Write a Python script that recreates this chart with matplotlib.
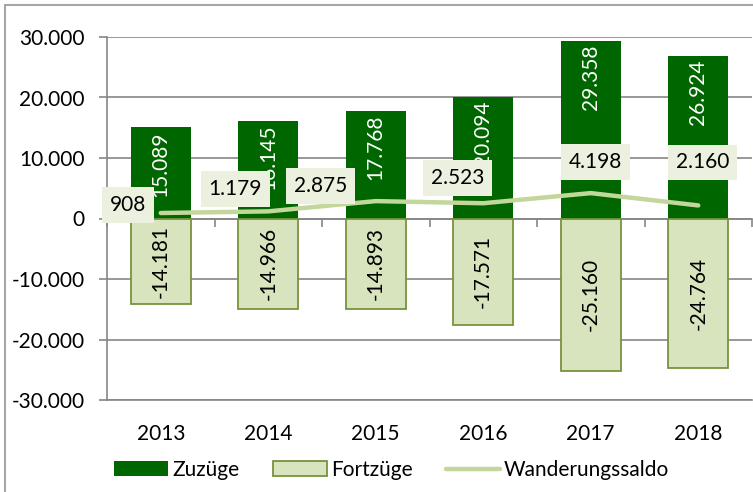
import matplotlib
matplotlib.use("Agg")
import matplotlib.pyplot as plt
from matplotlib.patches import Rectangle
from matplotlib.ticker import FuncFormatter
import numpy as np

plt.rcParams['font.family'] = ['Lato', 'DejaVu Sans']

years = ["2013", "2014", "2015", "2016", "2017", "2018"]
zuzuege = [15089, 16145, 17768, 20094, 29358, 26924]
fortzuege = [-14181, -14966, -14893, -17571, -25160, -24764]
saldo = [908, 1179, 2875, 2523, 4198, 2160]
yticks = [-30000, -20000, -10000, 0, 10000, 20000, 30000]

# label offsets (pixels) for the saldo labels
saldo_offsets = [(-33, 8), (-33, 22), (-55, 15), (-26, 25), (5, 31), (4, 43)]

def de(v):
    s = f"{abs(int(v)):,}".replace(",", ".")
    return ("-" if v < 0 else "") + s

W, H = 753, 492
fig = plt.figure(figsize=(W/100, H/100), dpi=100)
ax = fig.add_axes([107/W, 1-400/H, (752-107)/W, (400-37)/H])

x = np.arange(len(years))
bw = 0.56
dark = '#006600'
light = '#d7e4bd'
edge = '#77933c'
linec = '#c3d69b'
grid = '#868686'

b1 = ax.bar(x, zuzuege, bw, color=dark, label='Zuzüge', zorder=3)
b2 = ax.bar(x, fortzuege, bw, color=light, edgecolor=edge, linewidth=1.3,
            label='Fortzüge', zorder=3)
ln, = ax.plot(x, saldo, color=linec, lw=3.2, solid_capstyle='round',
              label='Wanderungssaldo', zorder=4)

fs = 15
for xi, v in zip(x, zuzuege):
    ax.annotate(de(v), (xi, v), xytext=(0, -4), textcoords='offset pixels',
                rotation=90, ha='center', va='top', color='white',
                fontsize=fs, zorder=5)
for xi, v in zip(x, fortzuege):
    ax.text(xi, v/2, de(v), rotation=90, ha='center', va='center',
            color='black', fontsize=fs, zorder=5)
for xi, v, (dx, dy) in zip(x, saldo, saldo_offsets):
    ax.annotate(de(v), (xi, v), xytext=(dx, dy), textcoords='offset pixels',
                ha='center', va='center', fontsize=fs, color='black', zorder=6,
                bbox=dict(boxstyle='square,pad=0.38', fc='#ebf1de', ec='none'))

ax.set_ylim(-30000, 30000)
ax.set_xlim(-0.5, len(years)-0.5)
ax.set_yticks(yticks)
ax.yaxis.set_major_formatter(FuncFormatter(lambda v, p: de(v)))
ax.grid(axis='y', color=grid, lw=1.2, zorder=0)
ax.set_axisbelow(True)
for s in ['top', 'right']:
    ax.spines[s].set_visible(False)
ax.spines['left'].set_color(grid)
ax.spines['left'].set_linewidth(1.2)
ax.spines['bottom'].set_position(('data', 0))
ax.spines['bottom'].set_color(grid)
ax.spines['bottom'].set_linewidth(1.2)
ax.set_xticks(np.arange(len(years)+1) - 0.5)
ax.set_xticklabels([])
ax.tick_params(axis='x', length=6, width=1.2, color=grid, direction='out')
ax.tick_params(axis='y', length=6, width=1.2, color=grid, pad=10, labelsize=fs)

sec = ax.secondary_xaxis(0)
sec.set_xticks(x)
sec.set_xticklabels(years)
sec.tick_params(length=0, pad=17, labelsize=fs)
sec.spines['bottom'].set_color(grid)
sec.spines['bottom'].set_linewidth(1.2)

leg = fig.legend(handles=[b1, b2, ln], loc='center', bbox_to_anchor=(0.52, 1-470/H),
                 ncol=3, frameon=False, fontsize=fs, handlelength=2.6,
                 handletextpad=0.2, columnspacing=1.6)

fig.patches.append(Rectangle((5/W, -0.1), 1.2, 1.1-5/H, transform=fig.transFigure,
                             fill=False, ec='#a6a6a6', lw=1.5))

fig.savefig('out.png', dpi=100)
